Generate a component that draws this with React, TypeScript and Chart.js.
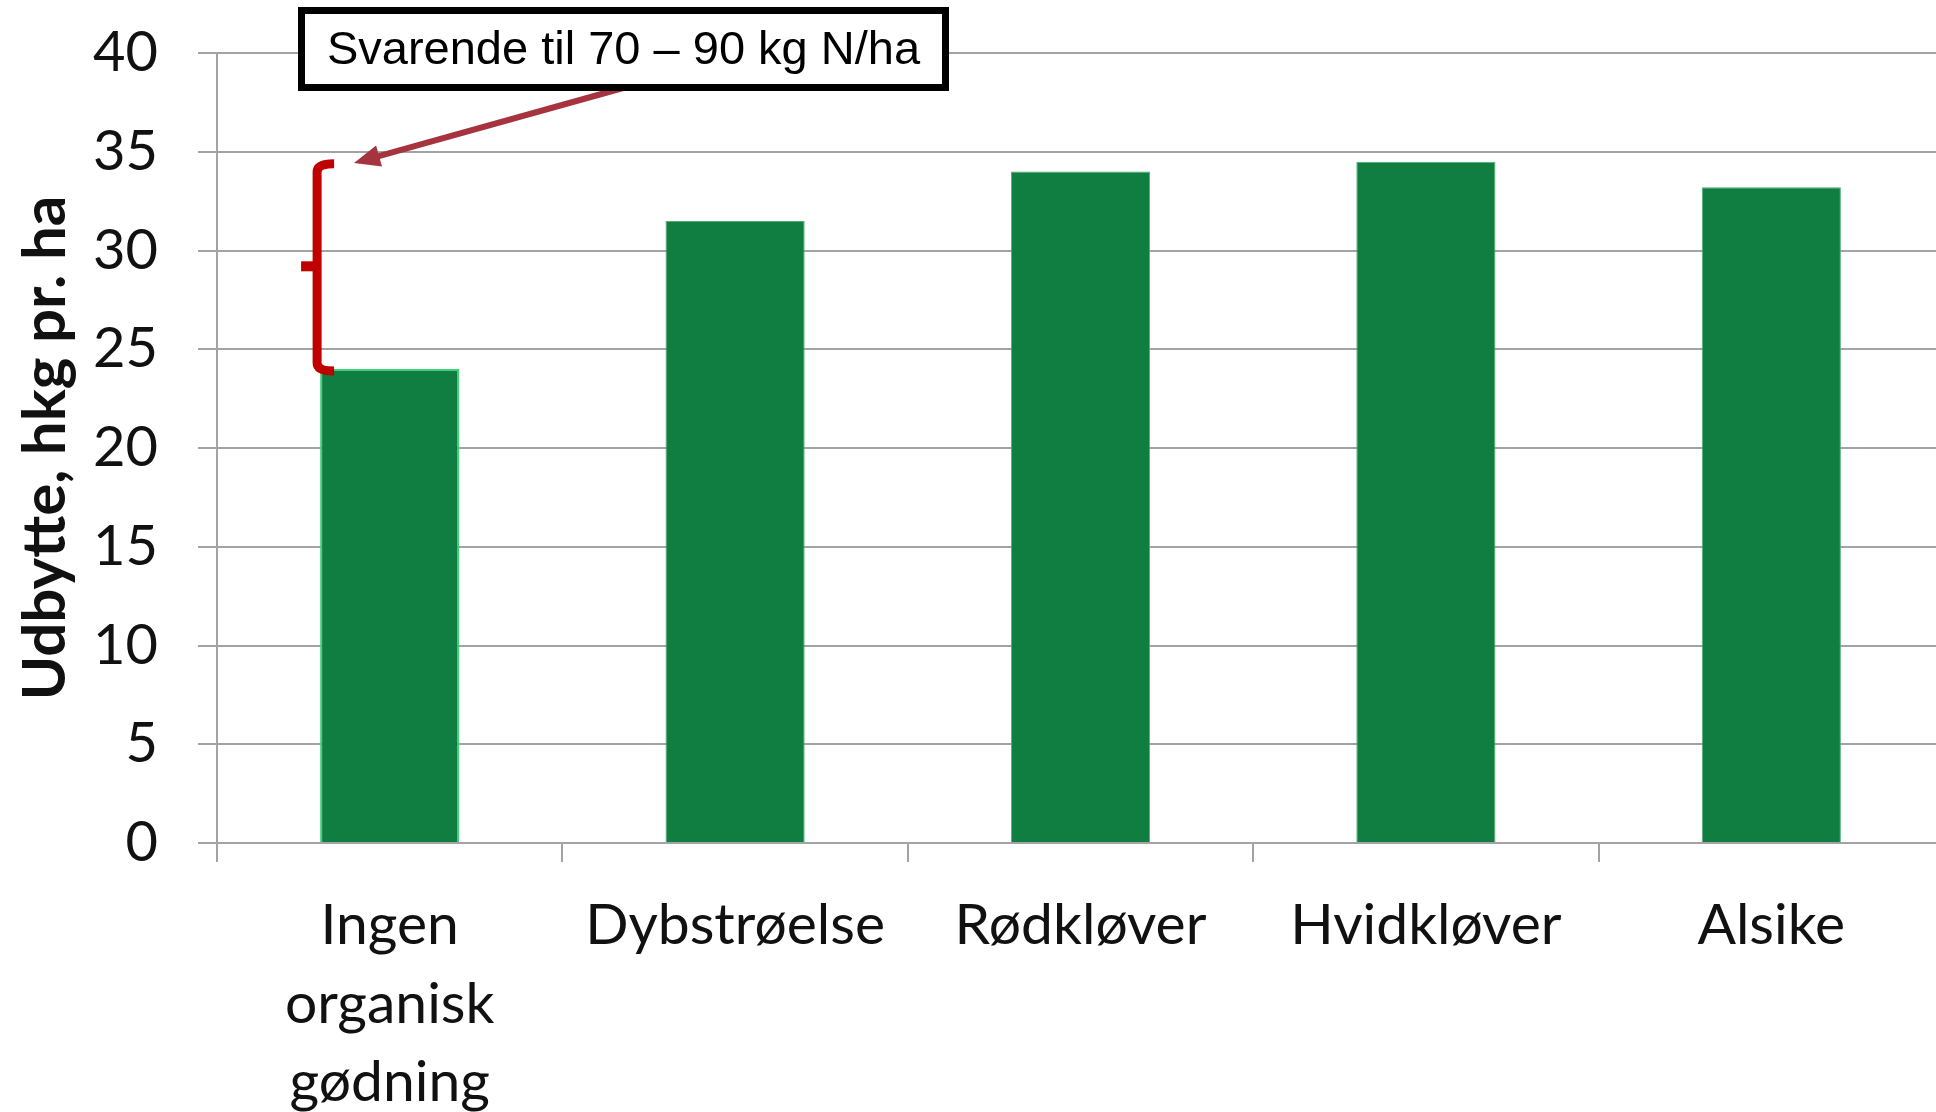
import React, { useEffect, useRef } from "react";
import { Chart, registerables } from "chart.js";

Chart.register(...registerables);

const categories: (string | string[])[] = [
  ["Ingen", "organisk", "gødning"],
  "Dybstrøelse",
  "Rødkløver",
  "Hvidkløver",
  "Alsike",
];
const yields = [24.0, 31.5, 34.0, 34.5, 33.2];
const yTicksMin = 0;
const yTicksMax = 40;
const yTickStep = 5;
const yTitle = "Udbytte, hkg pr. ha";
const noteText = "Svarende til 70 – 90 kg N/ha";
const braceRange = [23.7, 34.6]; // value span of the red bracket
const braceMid = 29.2;

const BAR_COLOR = "#0f7e40";
const GRID = "#a3a3a3";

const annotationPlugin = {
  id: "annot",
  afterDraw(chart: any) {
    const ctx = chart.ctx as CanvasRenderingContext2D;
    const ys = chart.scales.y;
    const bar = chart.getDatasetMeta(0).data[0];
    const bx = bar.x - bar.width / 2 - 3;
    const top = ys.getPixelForValue(braceRange[1]);
    const bottom = ys.getPixelForValue(braceRange[0]);
    const mid = ys.getPixelForValue(braceMid);

    ctx.save();
    // red bracket
    ctx.strokeStyle = "#c00000";
    ctx.fillStyle = "#c00000";
    ctx.lineWidth = 9;
    ctx.lineJoin = "round";
    ctx.lineCap = "butt";
    ctx.beginPath();
    ctx.moveTo(bx + 17, top + 4);
    ctx.quadraticCurveTo(bx, top + 4, bx, top + 12);
    ctx.lineTo(bx, bottom - 12);
    ctx.quadraticCurveTo(bx, bottom - 4, bx + 17, bottom - 4);
    ctx.stroke();
    ctx.fillRect(bx - 16, mid - 5, 16, 10);

    // arrow
    const x1 = 623, y1 = 88;
    const x2 = 354, y2 = 163;
    const ang = Math.atan2(y2 - y1, x2 - x1);
    const headLen = 26;
    const headW = 11;
    ctx.strokeStyle = "#a5343f";
    ctx.fillStyle = "#a5343f";
    ctx.lineWidth = 6;
    ctx.beginPath();
    ctx.moveTo(x1, y1);
    ctx.lineTo(x2 - Math.cos(ang) * (headLen - 4), y2 - Math.sin(ang) * (headLen - 4));
    ctx.stroke();
    const bxp = x2 - Math.cos(ang) * headLen;
    const byp = y2 - Math.sin(ang) * headLen;
    ctx.beginPath();
    ctx.moveTo(x2, y2);
    ctx.lineTo(bxp + Math.sin(ang) * headW, byp - Math.cos(ang) * headW);
    ctx.lineTo(bxp - Math.sin(ang) * headW, byp + Math.cos(ang) * headW);
    ctx.closePath();
    ctx.fill();

    // note box
    const bl = 301.5, bt = 10.5, bw = 644, bh = 77;
    ctx.fillStyle = "#ffffff";
    ctx.fillRect(bl, bt, bw, bh);
    ctx.strokeStyle = "#000000";
    ctx.lineWidth = 7;
    ctx.lineJoin = "miter";
    ctx.strokeRect(bl, bt, bw, bh);
    ctx.fillStyle = "#000000";
    ctx.font = "47px 'Liberation Sans', Arial, sans-serif";
    ctx.textAlign = "center";
    ctx.textBaseline = "middle";
    ctx.fillText(noteText, bl + bw / 2, bt + bh / 2 + 2);
    ctx.restore();
  },
};

export default function App() {
  const ref = useRef<HTMLCanvasElement | null>(null);

  useEffect(() => {
    document.body.style.margin = "0";
    document.body.style.overflow = "hidden";
    const canvas = ref.current!;
    const chart = new Chart(canvas, {
      type: "bar",
      data: {
        labels: categories,
        datasets: [
          {
            data: yields,
            backgroundColor: BAR_COLOR,
            borderColor: ["#3fd07e", "#4fae78", "#4fae78", "#4fae78", "#4fae78"],
            borderWidth: [2, 1, 1, 1, 1],
            borderSkipped: "bottom",
            barPercentage: 0.403,
            categoryPercentage: 1,
          },
        ],
      },
      options: {
        responsive: false,
        animation: false,
        layout: { padding: { top: 53, right: 6, bottom: 0, left: 0 } },
        plugins: {
          legend: { display: false },
          tooltip: { enabled: false },
        },
        scales: {
          x: {
            afterFit: (s: any) => {
              s.height = 269;
            },
            grid: {
              display: true,
              drawOnChartArea: false,
              drawTicks: true,
              tickLength: 19,
              color: GRID,
              lineWidth: 2,
              offset: true,
            },
            border: { display: true, color: GRID, width: 2 },
            ticks: {
              color: "#111",
              padding: 25,
              maxRotation: 0,
              autoSkip: false,
              font: { family: "Lato, 'Open Sans', sans-serif", size: 57, lineHeight: 1.37 },
            },
          },
          y: {
            min: yTicksMin,
            max: yTicksMax,
            afterFit: (s: any) => {
              s.width = 217;
              s.paddingTop = 0;
              s.paddingBottom = 0;
            },
            ticks: {
              stepSize: yTickStep,
              color: "#111",
              padding: 40,
              font: { family: "Lato, 'Open Sans', sans-serif", size: 56 },
            },
            grid: {
              color: GRID,
              lineWidth: 2,
              tickLength: 19,
            },
            border: { display: true, color: GRID, width: 2 },
            title: {
              display: true,
              text: yTitle,
              color: "#111",
              padding: { top: 16, bottom: 0 },
              font: { family: "Lato, sans-serif", size: 60, weight: "bold", lineHeight: 1 },
            },
          },
        },
      },
      plugins: [annotationPlugin],
    });
    return () => chart.destroy();
  }, []);

  return (
    <div style={{ width: 1950, height: 1112, overflow: "hidden" }}>
      <canvas ref={ref} width={1950} height={1112} style={{ display: "block", width: 1950, height: 1112 }} />
    </div>
  );
}
